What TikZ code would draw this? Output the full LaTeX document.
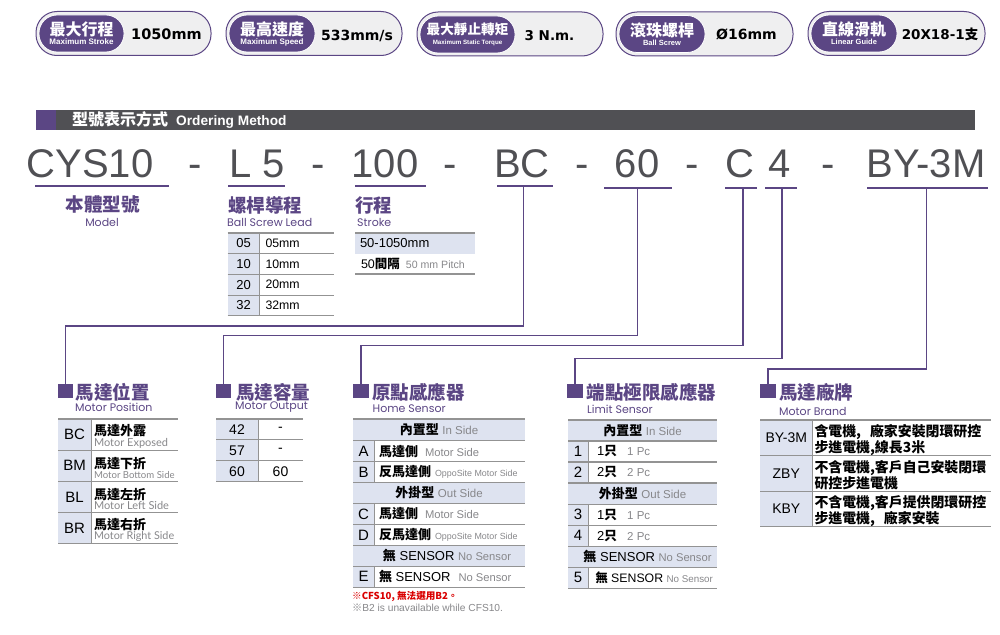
\documentclass[tikz,border=0pt]{standalone}
\usepackage{fontspec}
\setmainfont{Liberation Sans}
\newfontfamily\cjk{Noto Sans CJK TC}
\newfontfamily\capf{Poppins}
\newfontfamily\cellf{Lato}
\newfontfamily\valf{DejaVu Sans}
\usetikzlibrary{positioning}
\definecolor{plum}{RGB}{91,70,132}
\definecolor{slate}{RGB}{80,80,84}
\definecolor{rowblue}{RGB}{222,227,240}
\definecolor{pillgray}{RGB}{239,239,240}
\definecolor{txtgray}{RGB}{135,135,138}
\newcommand{\fs}[1]{\fontsize{#1}{#1}\selectfont}
\newcommand{\zh}[1]{{\cjk\bfseries #1}}
\newcommand{\gy}[1]{{\color{txtgray}#1}}
\newcommand{\gc}[1]{{\cellf\color{txtgray}#1}}

\begin{document}
\begin{tikzpicture}[
x=1pt, y=-1pt,
pillout/.style={rectangle, draw=plum, fill=pillgray, line width=1, rounded corners=21, minimum height=44, inner sep=0},
pillin/.style={rectangle, draw=white, line width=.8, fill=plum, text=white, align=center, rounded corners=18, minimum height=37, inner sep=0},
pillval/.style={font=\fs{14.5}\valf\bfseries, text=black, inner sep=0},
bigtxt/.style={font=\fs{40}, text=slate, inner sep=0, anchor=base},
ulin/.style={rectangle, fill=plum, minimum height=1.2, inner sep=0, outer sep=0},
conn/.style={draw=plum, line width=1.2},
headzh/.style={font=\fs{18.5}\cjk\bfseries, text=plum, inner sep=0, anchor=west},
headen/.style={font=\fs{11}\capf, text=plum, inner sep=0, anchor=west},
sqmark/.style={rectangle, fill=plum, minimum width=15.5, minimum height=14, inner sep=0},
rowrule/.style={draw=gray!85, line width=1.1},
keycell/.style={rectangle, fill=rowblue, font=\fs{13}, inner sep=0, outer sep=0},
valcell/.style={rectangle, font=\fs{12.3}, align=flush left, inner xsep=3, inner ysep=0, outer sep=0},
hdrcell/.style={rectangle, fill=rowblue, font=\fs{13}, inner sep=0, outer sep=0},
leadkey/.style={keycell, minimum width=32, minimum height=20.7},
leadval/.style={valcell, text width=62.5, minimum height=20.7, inner xsep=6},
poskey/.style={keycell, font=\fs{15}, minimum width=33, minimum height=31.2},
posval/.style={valcell, text width=81, minimum height=31.2, font=\fs{13}},
outkey/.style={keycell, font=\fs{14}, minimum width=42, minimum height=20.9},
outval/.style={valcell, font=\fs{14}, align=center, text width=39, minimum height=20.9},
homekey/.style={keycell, font=\fs{15}, minimum width=21, minimum height=20.9},
homeval/.style={valcell, text width=141, minimum height=20.9, inner xsep=5, font=\fs{13}},
limkey/.style={keycell, font=\fs{15}, minimum width=20, minimum height=21},
limval/.style={valcell, text width=111, minimum height=21, inner xsep=9},
brandkey/.style={keycell, font=\fs{14}, minimum width=52.5, minimum height=35.6},
brandval/.style={valcell, text width=174, minimum height=35.6, font=\fs{13.9}\cjk\bfseries, inner xsep=2}]

\useasboundingbox (0,0) rectangle (1000,634);

% top badges
\node[pillout, minimum width=175] (po1) at (123.5,33.5) {};
\node[pillin, minimum width=85] (pi1) at (81.5,33.5) {\fs{16}\zh{最大行程}\\[-3pt]\fs{8}\textbf{Maximum Stroke}};
\node[pillval] (pv1) at (166.5,34.5) {1050mm};
\node[pillout, minimum width=176] (po2) at (314,33.5) {};
\node[pillin, minimum width=86] (pi2) at (272,33.5) {\fs{16}\zh{最高速度}\\[-3pt]\fs{8}\textbf{Maximum Speed}};
\node[pillval, font=\fs{14}\valf\bfseries] (pv2) at (357,35.5) {533mm/s};
\node[pillout, minimum width=186] (po3) at (510,34) {};
\node[pillin, minimum width=95] (pi3) at (467.5,34.5) {\fs{13.6}\zh{最大靜止轉矩}\\[-2pt]\fs{6.2}\textbf{Maximum Static Torque}};
\node[pillval, font=\fs{13.5}\valf\bfseries] (pv3) at (549.5,35.5) {3 N.m.};
\node[pillout, minimum width=177] (po4) at (704.5,34) {};
\node[pillin, minimum width=86] (pi4) at (662,34) {\fs{16}\zh{滾珠螺桿}\\[-3pt]\fs{7.5}\textbf{Ball Screw}};
\node[pillval, font=\fs{14}\valf\bfseries] (pv4) at (746.5,34.5) {Ø16mm};
\node[pillout, minimum width=177] (po5) at (896.5,33.5) {};
\node[pillin, minimum width=86] (pi5) at (854,33.5) {\fs{16}\zh{直線滑軌}\\[-3pt]\fs{7.5}\textbf{Linear Guide}};
\node[pillval, font=\fs{13.5}\valf\bfseries] (pv5) at (940,34.5) {20X18-1\zh{支}};

% title bar
\node[rectangle, fill=slate, minimum width=939, minimum height=20, inner sep=0] (bar) at (505.5,120) {};
\node[rectangle, fill=plum, minimum width=20, minimum height=20, inner sep=0] (barsq) at (46,120) {};
\node[text=white, inner sep=0, anchor=west, font=\fs{13}] (bartxt) at (72,120) {\fs{16}\zh{型號表示方式}\hspace{8pt}\fs{13.7}\textbf{Ordering Method}};

% order code
\node[bigtxt] (cys) at (90,177.5) {CYS10};
\node[bigtxt] (d1) at (195,177.5) {-};
\node[bigtxt] (l5) at (257,177.5) {L 5};
\node[bigtxt] (d2) at (318,177.5) {-};
\node[bigtxt] (str) at (385,177.5) {100};
\node[bigtxt] (d3) at (450,177.5) {-};
\node[bigtxt] (bc) at (522,177.5) {BC};
\node[bigtxt] (d4) at (582,177.5) {-};
\node[bigtxt] (mo) at (637,177.5) {60};
\node[bigtxt] (d5) at (692,177.5) {-};
\node[bigtxt] (cc) at (740,177.5) {C};
\node[bigtxt] (ff) at (780,177.5) {4};
\node[bigtxt] (d6) at (828,177.5) {-};
\node[bigtxt] (by) at (926,177.5) {BY-3M};

\node[ulin, minimum width=134] (ucys) at (102,186) {};
\node[ulin, minimum width=57] (ul5) at (256.5,186) {};
\node[ulin, minimum width=71] (ustr) at (390.5,186) {};
\node[ulin, minimum width=56] (ubc) at (525,186) {};
\node[ulin, minimum width=68] (umo) at (638,188) {};
\node[ulin, minimum width=32] (ucc) at (741,188) {};
\node[ulin, minimum width=32] (uff) at (781,188) {};
\node[ulin, minimum width=121] (uby) at (927.5,188) {};

% model
\node[headzh, anchor=center] (hmodel) at (102.5,205) {本體型號};
\node[headen, anchor=center] (emodel) at (102,222) {Model};

% lead
\node[headzh] (hlead) at (228,205) {螺桿導程};
\node[headen] (elead) at (227,222) {Ball Screw Lead};
\node[leadkey, anchor=north west] (l05) at (227.5,233) {05};
\node[leadval, right=0pt of l05] (v05) {05mm};
\node[leadkey, below=0pt of l05] (l10) {10};
\node[leadval, right=0pt of l10] (v10) {10mm};
\node[leadkey, below=0pt of l10] (l20) {20};
\node[leadval, right=0pt of l20] (v20) {20mm};
\node[leadkey, below=0pt of l20] (l32) {32};
\node[leadval, right=0pt of l32] (v32) {32mm};
\foreach \k/\v in {l05/v05,l10/v10,l20/v20,l32/v32}{
  \draw[rowrule] (\k.south west) -- (\v.south east);
  \draw[rowrule, line width=.7] (\k.north east) -- (\k.south east);
}
\draw[rowrule] (l05.north west) -- (v05.north east);

% stroke
\node[headzh] (hstr) at (355,205) {行程};
\node[headen] (estr) at (357,222) {Stroke};
\node[hdrcell, anchor=north west, minimum width=120, minimum height=20.5, text width=110, align=flush left] (s1) at (355,233) {50-1050mm};
\node[valcell, below=0pt of s1, text width=108, minimum height=20.5, inner xsep=6] (s2) {\fs{12.5}50\zh{間隔}\hspace{6pt}\gy{\fs{10.6}50 mm Pitch}};
\draw[rowrule] (s1.north west) -- (s1.north east);
\draw[rowrule] (s2.south west) -- (s2.south east);

% connectors
\coordinate (kpos) at (523.5,326);
\coordinate (kout) at (637.5,335.5);
\coordinate (khom) at (743,345.5);
\coordinate (klim) at (782,358.5);
\coordinate (kbra) at (926.5,369);

% motor position
\node[sqmark] (spos) at (65.5,391) {};
\node[headzh] (hpos) at (75.5,392) {馬達位置};
\node[headen] (epos) at (75,407) {Motor Position};
\node[poskey, anchor=north west] (kbc) at (58,419) {BC};
\node[posval, right=0pt of kbc] (vbc) {\rule{0pt}{15pt}\zh{馬達外露}\\[-2.5pt]\gc{\fs{11}Motor Exposed}};
\node[poskey, below=0pt of kbc] (kbm) {BM};
\node[posval, right=0pt of kbm] (vbm) {\rule{0pt}{15pt}\zh{馬達下折}\\[-2.5pt]\gc{\fs{9.6}Motor Bottom Side}};
\node[poskey, below=0pt of kbm] (kbl) {BL};
\node[posval, right=0pt of kbl] (vbl) {\rule{0pt}{15pt}\zh{馬達左折}\\[-2.5pt]\gc{\fs{11}Motor Left Side}};
\node[poskey, below=0pt of kbl] (kbr) {BR};
\node[posval, right=0pt of kbr] (vbr) {\rule{0pt}{15pt}\zh{馬達右折}\\[-2.5pt]\gc{\fs{10.8}Motor Right Side}};
\foreach \k/\v in {kbc/vbc,kbm/vbm,kbl/vbl,kbr/vbr}{
  \draw[rowrule] (\k.south west) -- (\v.south east);
  \draw[rowrule, line width=.7] (\k.north east) -- (\k.south east);
}
\draw[rowrule] (kbc.north west) -- (vbc.north east);

% motor output
\node[sqmark] (sout) at (223.5,391) {};
\node[headzh] (hout) at (236,392) {馬達容量};
\node[headen] (eout) at (235,407) {Motor Output};
\node[outkey, anchor=north west] (o42) at (216,419) {42};
\node[outval, right=0pt of o42] (p42) {-};
\node[outkey, below=0pt of o42] (o57) {57};
\node[outval, right=0pt of o57] (p57) {-};
\node[outkey, below=0pt of o57] (o60) {60};
\node[outval, right=0pt of o60] (p60) {60};
\foreach \k/\v in {o42/p42,o57/p57,o60/p60}{
  \draw[rowrule] (\k.south west) -- (\v.south east);
  \draw[rowrule, line width=.7] (\k.north east) -- (\k.south east);
}
\draw[rowrule] (o42.north west) -- (p42.north east);

% home sensor
\node[sqmark] (shom) at (361,391) {};
\node[headzh] (hhom) at (372,392) {原點感應器};
\node[headen] (ehom) at (372.5,409) {Home Sensor};
\node[hdrcell, anchor=north west, minimum width=172, minimum height=21.7] (hin) at (353,419) {\zh{內置型} \gy{\fs{11.5}In Side}};
\node[homekey, anchor=north west] (ka) at (353,440.7) {A};
\node[homeval, right=0pt of ka] (va) {\zh{馬達側}\hspace{7pt}\gy{\fs{11.2}Motor Side}};
\node[homekey, below=0pt of ka] (kb) {B};
\node[homeval, right=0pt of kb] (vb) {\zh{反馬達側}\hspace{4pt}\gy{\fs{8.9}OppoSite Motor Side}};
\node[hdrcell, anchor=north west, minimum width=172, minimum height=21] (hou) at (353,482.5) {\zh{外掛型} \gy{\fs{11.5}Out Side}};
\node[homekey, anchor=north west] (kc) at (353,503.5) {C};
\node[homeval, right=0pt of kc] (vc) {\zh{馬達側}\hspace{7pt}\gy{\fs{11.2}Motor Side}};
\node[homekey, below=0pt of kc] (kd) {D};
\node[homeval, right=0pt of kd] (vd) {\zh{反馬達側}\hspace{4pt}\gy{\fs{8.9}OppoSite Motor Side}};
\node[hdrcell, anchor=north west, minimum width=172, minimum height=20.9] (hno) at (353,545.3) {\hspace*{16pt}\zh{無} SENSOR \gy{\fs{11.2}No Sensor}};
\node[homekey, below=0pt of hno.south west, anchor=north west] (ke) {E};
\node[homeval, right=0pt of ke] (ve) {\zh{無} SENSOR\hspace{8pt}\gy{\fs{11.2}No Sensor}};
\foreach \k/\v in {ka/va,kb/vb,kc/vc,kd/vd,ke/ve}{
  \draw[rowrule] (\k.south west) -- (\v.south east);
  \draw[rowrule, line width=.7] (\k.north east) -- (\k.south east);
}
\foreach \k in {hin,hou,hno}{
  \draw[rowrule] (\k.north west) -- (\k.north east);
  \draw[rowrule] (\k.south west) -- (\k.south east);
}
\node[inner sep=0, anchor=west, text=red!85!black, font=\fs{9.6}] (nred) at (352,596) {\zh{※CFS10, 無法選用B2。}};
\node[inner sep=0, anchor=west, text=txtgray, font=\fs{10.2}] (ngry) at (352,608) {{\cjk ※}B2 is unavailable while CFS10.};

% limit sensor
\node[sqmark] (slim) at (575,391) {};
\node[headzh] (hlim) at (586.5,392) {端點極限感應器};
\node[headen] (elim) at (587,409) {Limit Sensor};
\node[hdrcell, anchor=north west, minimum width=149, minimum height=21] (lin) at (568,420) {\zh{內置型} \gy{\fs{11.5}In Side}};
\node[limkey, anchor=north west] (k1) at (568,441) {1};
\node[limval, right=0pt of k1] (v1) {\fs{13}1\zh{只}\hspace{10pt}\gy{\fs{11.5}1 Pc}};
\node[limkey, below=0pt of k1] (k2) {2};
\node[limval, right=0pt of k2] (v2) {\fs{13}2\zh{只}\hspace{10pt}\gy{\fs{11.5}2 Pc}};
\node[hdrcell, anchor=north west, minimum width=149, minimum height=21.3] (lou) at (568,483) {\zh{外掛型} \gy{\fs{11.5}Out Side}};
\node[limkey, anchor=north west] (k3) at (568,504.3) {3};
\node[limval, right=0pt of k3] (v3) {\fs{13}1\zh{只}\hspace{10pt}\gy{\fs{11.5}1 Pc}};
\node[limkey, below=0pt of k3] (k4) {4};
\node[limval, right=0pt of k4] (v4) {\fs{13}2\zh{只}\hspace{10pt}\gy{\fs{11.5}2 Pc}};
\node[hdrcell, anchor=north west, minimum width=149, minimum height=21] (lno) at (568,546.3) {\hspace*{10pt}\zh{無} SENSOR \gy{\fs{11.2}No Sensor}};
\node[limkey, below=0pt of lno.south west, anchor=north west] (k5) {5};
\node[limval, right=0pt of k5, inner xsep=7.5, text width=114] (v5) {\mbox{\zh{無} SENSOR \gy{\fs{9.8}No Sensor}}};
\foreach \k/\v in {k1/v1,k2/v2,k3/v3,k4/v4,k5/v5}{
  \draw[rowrule] (\k.south west) -- (\v.south east);
  \draw[rowrule, line width=.7] (\k.north east) -- (\k.south east);
}
\foreach \k in {lin,lou,lno}{
  \draw[rowrule] (\k.north west) -- (\k.north east);
  \draw[rowrule] (\k.south west) -- (\k.south east);
}

% motor brand
\node[sqmark] (sbra) at (768,391) {};
\node[headzh] (hbra) at (779,392) {馬達廠牌};
\node[headen] (ebra) at (779,411) {Motor Brand};
\node[brandkey, anchor=north west] (b1) at (760,420) {BY-3M};
\node[brandval, right=0pt of b1] (w1) {\rule{0pt}{16pt}含電機,\hspace{9pt}廠家安裝閉環研控\\[-.5pt]步進電機,線長3米};
\node[brandkey, below=0pt of b1] (b2) {ZBY};
\node[brandval, right=0pt of b2] (w2) {\rule{0pt}{16pt}不含電機,客戶自己安裝閉環\\[-.5pt]研控步進電機};
\node[brandkey, below=0pt of b2] (b3) {KBY};
\node[brandval, right=0pt of b3] (w3) {\rule{0pt}{16pt}不含電機,客戶提供閉環研控\\[-.5pt]步進電機,\hspace{9pt}廠家安裝};
\foreach \k/\v in {b1/w1,b2/w2,b3/w3}{
  \draw[rowrule] (\k.south west) -- (\v.south east);
  \draw[rowrule, line width=.7] (\k.north east) -- (\k.south east);
}
\draw[rowrule] (b1.north west) -- (w1.north east);

\draw[conn] (kpos |- ubc.south) -- (kpos) -| (spos.north);
\draw[conn] (kout |- umo.south) -- (kout) -| (sout.north);
\draw[conn] (khom |- ucc.south) -- (khom) -| (shom.north);
\draw[conn] (klim |- uff.south) -- (klim) -| (slim.north);
\draw[conn] (kbra |- uby.south) -- (kbra) -| (sbra.north);

\end{tikzpicture}
\end{document}
